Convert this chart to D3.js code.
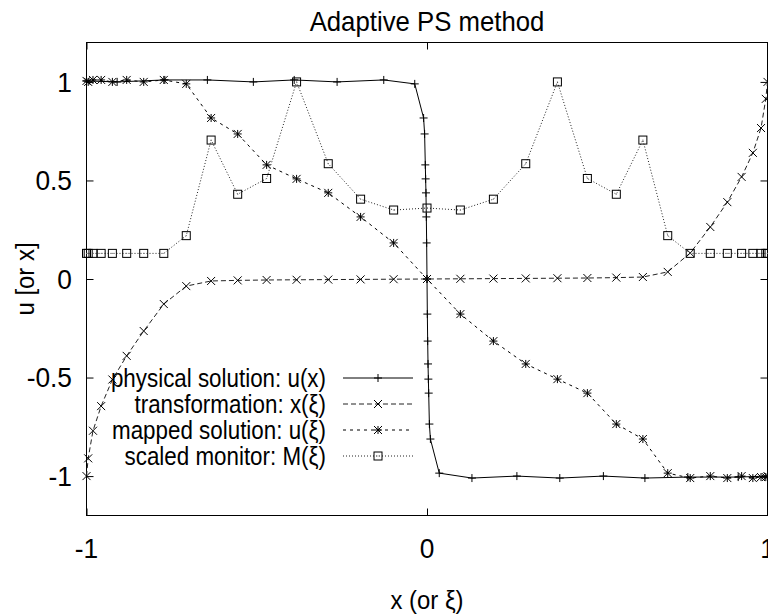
<!DOCTYPE html>
<html>
<head>
<meta charset="utf-8">
<script src="https://cdn.jsdelivr.net/npm/d3@7"></script>
<style>
html,body{margin:0;padding:0;background:#fff;}
text{font-family:"Liberation Sans",Arial,Helvetica,sans-serif;fill:#000;}
</style>
</head>
<body>
<svg id="chart" width="768" height="614"></svg>
<script>
// ---- data ----
const title = "Adaptive PS method";
const xLabel = "x (or ξ)";
const yLabel = "u [or x]";
const xTicks = [-1, 0, 1];
const xTickLabels = ["-1", "0", "1"];
const yTicks = [-1, -0.5, 0, 0.5, 1];
const yTickLabels = ["-1", "-0.5", "0", "0.5", "1"];

// computational grid ξ_j
const xi = [-1, -0.995, -0.981, -0.957, -0.924, -0.882, -0.832, -0.773, -0.707, -0.634, -0.556,
  -0.471, -0.383, -0.290, -0.195, -0.098, 0, 0.098, 0.195, 0.290, 0.383, 0.471, 0.556,
  0.634, 0.707, 0.773, 0.832, 0.882, 0.924, 0.957, 0.981, 0.995, 1];
// transformation x(ξ_j)
const xOfXi = [-1.0, -0.91, -0.77, -0.645, -0.51, -0.39, -0.264, -0.127, -0.036, -0.010, -0.007,
  -0.005, -0.004, -0.003, -0.002, -0.001, 0, 0.001, 0.002, 0.003, 0.004, 0.005, 0.007,
  0.010, 0.036, 0.132, 0.264, 0.39, 0.518, 0.64, 0.766, 0.914, 1.0];
// solution values u_j
const uVals = [1.005, 1.0, 1.01, 1.01, 1.0, 1.01, 1.0, 1.01, 0.99, 0.817, 0.736,
  0.579, 0.508, 0.437, 0.315, 0.183, 0, -0.178, -0.315, -0.431, -0.508, -0.579, -0.736,
  -0.812, -0.985, -1.01, -1.0, -1.01, -1.0, -1.01, -1.005, -1.005, -1.0];
// scaled monitor M(ξ_j)
const monitor = [0.13, 0.13, 0.13, 0.13, 0.13, 0.13, 0.13, 0.13, 0.22, 0.705, 0.43,
  0.51, 1.0, 0.585, 0.405, 0.35, 0.36, 0.35, 0.405, 0.585, 1.0, 0.51, 0.43,
  0.705, 0.22, 0.13, 0.13, 0.13, 0.13, 0.13, 0.13, 0.13, 0.13];

const seriesNames = ["physical solution: u(x)", "transformation: x(ξ)", "mapped solution: u(ξ)", "scaled monitor: M(ξ)"];

// ---- chart ----
const svg = d3.select("#chart");
const L = 86.5, R = 767.5, T = 42.5, B = 515.5;
const x = d3.scaleLinear().domain([-1, 1]).range([L, R]);
const y = d3.scaleLinear().domain([-1.2, 1.2]).range([B, T]);

const series = [
  {name: seriesNames[0], xs: xOfXi, ys: uVals, dash: null, marker: "plus", color: "#000"},
  {name: seriesNames[1], xs: xi, ys: xOfXi, dash: "5,3", marker: "cross", color: "#222"},
  {name: seriesNames[2], xs: xi, ys: uVals, dash: "3,4", marker: "star", color: "#000"},
  {name: seriesNames[3], xs: xi, ys: monitor, dash: "1,2", marker: "square", color: "#222"}
];

// condensed text helper
function addText(parent, tx, ty, str, size, sx, anchor, rot) {
  const g = parent.append("g").attr("transform", `translate(${tx},${ty})` + (rot ? ` rotate(${rot})` : "") + ` scale(${sx},1)`);
  return g.append("text").attr("x", 0).attr("y", 0).attr("dy", "0.35em")
    .attr("text-anchor", anchor).attr("font-size", size).text(str);
}

function drawMarker(g, type, cx, cy) {
  const s = 4;
  if (type === "plus" || type === "star") {
    g.append("path").attr("d", `M${cx - s},${cy}H${cx + s}M${cx},${cy - s}V${cy + s}`)
      .attr("stroke", "#000").attr("stroke-width", 1).attr("fill", "none");
  }
  if (type === "cross" || type === "star") {
    g.append("path").attr("d", `M${cx - s},${cy - s}L${cx + s},${cy + s}M${cx - s},${cy + s}L${cx + s},${cy - s}`)
      .attr("stroke", "#000").attr("stroke-width", 1).attr("fill", "none");
  }
  if (type === "square") {
    g.append("rect").attr("x", cx - 4).attr("y", cy - 4).attr("width", 8).attr("height", 8)
      .attr("stroke", "#000").attr("stroke-width", 1).attr("fill", "none");
    g.append("rect").attr("x", cx - 0.5).attr("y", cy - 0.5).attr("width", 1).attr("height", 1)
      .attr("fill", "#777");
  }
}

// clip
svg.append("defs").append("clipPath").attr("id", "clip")
  .append("rect").attr("x", L - 6).attr("y", T).attr("width", R - L + 12).attr("height", B - T);

// axes ticks (inward, mirrored)
const axG = svg.append("g");
axG.append("g").attr("transform", `translate(0,${B})`).call(d3.axisBottom(x).tickValues(xTicks).tickSize(-7).tickFormat(""));
axG.append("g").attr("transform", `translate(0,${T})`).call(d3.axisTop(x).tickValues(xTicks).tickSize(-7).tickFormat(""));
axG.append("g").attr("transform", `translate(${L},0)`).call(d3.axisLeft(y).tickValues(yTicks).tickSize(-7).tickFormat(""));
axG.append("g").attr("transform", `translate(${R},0)`).call(d3.axisRight(y).tickValues(yTicks).tickSize(-7).tickFormat(""));
axG.selectAll(".domain").remove();
axG.selectAll(".tick line").attr("stroke", "#000").attr("stroke-width", 1);

// frame
svg.append("rect").attr("x", L).attr("y", T).attr("width", R - L).attr("height", B - T)
  .attr("fill", "none").attr("stroke", "#000").attr("stroke-width", 1);

// tick labels
const tl = svg.append("g");
yTicks.forEach((d, i) => addText(tl, 72, y(d), yTickLabels[i], 28, 0.94, "end"));
xTicks.forEach((d, i) => addText(tl, x(d), 548, xTickLabels[i], 28, 0.94, "middle"));

// title & axis labels
addText(svg, 427, 21, title, 28, 0.92, "middle");
addText(svg, 427, 600, xLabel, 26, 0.92, "middle");
addText(svg, 25, 279, yLabel, 26, 0.92, "middle", -90);

// series
const plotG = svg.append("g").attr("clip-path", "url(#clip)");
const line = d3.line().x(d => x(d[0])).y(d => y(d[1]));
series.forEach(s => {
  const pts = s.xs.map((v, i) => [v, s.ys[i]]);
  plotG.append("path").datum(pts).attr("d", line).attr("fill", "none")
    .attr("stroke", s.color).attr("stroke-width", 1)
    .attr("stroke-dasharray", s.dash);
  const mg = plotG.append("g");
  pts.forEach(p => drawMarker(mg, s.marker, x(p[0]), y(p[1])));
});

// legend
const legRows = [378, 404, 430, 456];
const legG = svg.append("g");
series.forEach((s, i) => {
  const ry = legRows[i];
  addText(legG, 326, ry, s.name, 25, 0.895, "end");
  legG.append("line").attr("x1", 343).attr("x2", 413).attr("y1", ry).attr("y2", ry)
    .attr("stroke", s.color).attr("stroke-width", 1).attr("stroke-dasharray", s.dash);
  drawMarker(legG, s.marker, 378, ry);
});
</script>
</body>
</html>
